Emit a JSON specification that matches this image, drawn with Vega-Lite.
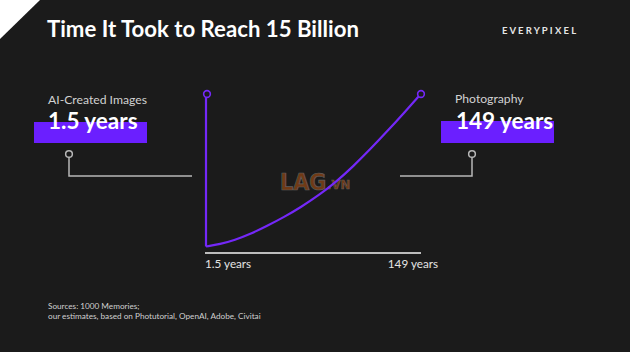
{
  "$schema": "https://vega.github.io/schema/vega-lite/v6.json",
  "width": 630,
  "height": 352,
  "autosize": {"type": "fit", "contains": "padding"},
  "padding": 0,
  "background": "#1b1b1b",
  "config": {"view": {"stroke": null}, "font": "Lato"},
  "datasets": {
    "corner": [{"x": 0, "y": 0, "y2": 39}, {"x": 40, "y": 0, "y2": 0}],
    "boxes": [
      {"x": 34, "x2": 147, "y": 122, "y2": 143},
      {"x": 441, "x2": 554, "y": 121, "y2": 143}
    ],
    "connectors": [
      {"id": "left", "ord": 1, "x": 69, "y": 157},
      {"id": "left", "ord": 2, "x": 69, "y": 176},
      {"id": "left", "ord": 3, "x": 192, "y": 176},
      {"id": "right", "ord": 1, "x": 472, "y": 157},
      {"id": "right", "ord": 2, "x": 472, "y": 176},
      {"id": "right", "ord": 3, "x": 400, "y": 176}
    ],
    "grayDots": [{"x": 69, "y": 154}, {"x": 472, "y": 154}],
    "axisLine": [{"x": 205, "x2": 421, "y": 253}],
    "vertical": [{"x": 206, "y": 96, "y2": 246.5}],
    "curve": [
      {"x": 206, "y": 246.5},
      {"x": 220, "y": 244.2},
      {"x": 235, "y": 240},
      {"x": 250, "y": 234.2},
      {"x": 267, "y": 226},
      {"x": 285, "y": 216.5},
      {"x": 300, "y": 207.7},
      {"x": 320, "y": 194.5},
      {"x": 337, "y": 181},
      {"x": 353, "y": 166.5},
      {"x": 370, "y": 149.5},
      {"x": 387, "y": 131.5},
      {"x": 403, "y": 114},
      {"x": 419, "y": 96}
    ],
    "purpleDots": [{"x": 207, "y": 94}, {"x": 421, "y": 94}],
    "title": [{"x": 47, "y": 37, "text": "Time It Took to Reach 15 Billion"}],
    "logo": [{"x": 502, "y": 34, "text": "E V E R Y P I X E L"}],
    "labels": [
      {"x": 48, "y": 104, "text": "AI-Created Images"},
      {"x": 455, "y": 103, "text": "Photography"}
    ],
    "big": [
      {"x": 48, "y": 129, "text": "1.5 years"},
      {"x": 456, "y": 129, "text": "149 years"}
    ],
    "axisLeft": [{"x": 205, "y": 268, "text": "1.5 years"}],
    "axisRight": [{"x": 438, "y": 268, "text": "149 years"}],
    "sources": [
      {"x": 48, "y": 309, "text": "Sources: 1000 Memories;"},
      {"x": 48, "y": 319, "text": "our estimates, based on Photutorial, OpenAI, Adobe, Civitai"}
    ],
    "wmBig": [{"x": 280, "y": 190, "text": "LAG"}],
    "wmSmall": [{"x": 327, "y": 189, "text": ".VN"}]
  },
  "encoding": {
    "x": {"field": "x", "type": "quantitative", "scale": {"domain": [0, 630], "nice": false, "zero": false}, "axis": null},
    "y": {"field": "y", "type": "quantitative", "scale": {"domain": [0, 352], "nice": false, "zero": false, "reverse": true}, "axis": null}
  },
  "layer": [
    {
      "data": {"name": "corner"},
      "mark": {"type": "area", "color": "#ffffff", "opacity": 1},
      "encoding": {"y2": {"field": "y2"}}
    },
    {
      "data": {"name": "boxes"},
      "mark": {"type": "rect", "color": "#6b1fff"},
      "encoding": {"x2": {"field": "x2"}, "y2": {"field": "y2"}}
    },
    {
      "data": {"name": "connectors"},
      "mark": {"type": "line", "color": "#b8b8b8", "strokeWidth": 1.5},
      "encoding": {"detail": {"field": "id"}, "order": {"field": "ord"}}
    },
    {
      "data": {"name": "grayDots"},
      "mark": {"type": "point", "shape": "circle", "filled": true, "fill": "#1b1b1b", "fillOpacity": 1, "stroke": "#b8b8b8", "strokeWidth": 1.5, "size": 45, "opacity": 1}
    },
    {
      "data": {"name": "wmBig"},
      "mark": {"type": "text", "align": "left", "baseline": "alphabetic", "fontSize": 23, "fontWeight": "bold", "font": "DejaVu Sans Condensed", "fill": "#7a3e16", "stroke": "#666666", "strokeWidth": 0.7, "opacity": 0.9},
      "encoding": {"text": {"field": "text"}}
    },
    {
      "data": {"name": "wmSmall"},
      "mark": {"type": "text", "align": "left", "baseline": "alphabetic", "fontSize": 13, "fontWeight": "bold", "font": "DejaVu Sans Condensed", "fill": "#7a3e16", "stroke": "#666666", "strokeWidth": 0.5, "opacity": 0.9},
      "encoding": {"text": {"field": "text"}}
    },
    {
      "data": {"name": "axisLine"},
      "mark": {"type": "rule", "color": "#bdbdbd", "strokeWidth": 2},
      "encoding": {"x2": {"field": "x2"}}
    },
    {
      "data": {"name": "vertical"},
      "mark": {"type": "rule", "color": "#7428f8", "strokeWidth": 2.2},
      "encoding": {"y2": {"field": "y2"}}
    },
    {
      "data": {"name": "curve"},
      "mark": {"type": "line", "color": "#7428f8", "strokeWidth": 2.2, "interpolate": "basis"},
      "encoding": {}
    },
    {
      "data": {"name": "purpleDots"},
      "mark": {"type": "point", "shape": "circle", "filled": true, "fill": "#1b1b1b", "fillOpacity": 1, "stroke": "#7428f8", "strokeWidth": 1.6, "size": 45, "opacity": 1}
    },
    {
      "data": {"name": "title"},
      "mark": {"type": "text", "align": "left", "baseline": "alphabetic", "fontSize": 22.2, "fontWeight": "bold", "color": "#ffffff"},
      "encoding": {"text": {"field": "text"}}
    },
    {
      "data": {"name": "logo"},
      "mark": {"type": "text", "align": "left", "baseline": "alphabetic", "fontSize": 9.5, "fontWeight": "bold", "color": "#e6e6e6"},
      "encoding": {"text": {"field": "text"}}
    },
    {
      "data": {"name": "labels"},
      "mark": {"type": "text", "align": "left", "baseline": "alphabetic", "fontSize": 12.2, "color": "#d2d2d2"},
      "encoding": {"text": {"field": "text"}}
    },
    {
      "data": {"name": "big"},
      "mark": {"type": "text", "align": "left", "baseline": "alphabetic", "fontSize": 22.5, "fontWeight": "bold", "color": "#ffffff"},
      "encoding": {"text": {"field": "text"}}
    },
    {
      "data": {"name": "axisLeft"},
      "mark": {"type": "text", "align": "left", "baseline": "alphabetic", "fontSize": 11.7, "color": "#e4e4e4"},
      "encoding": {"text": {"field": "text"}}
    },
    {
      "data": {"name": "axisRight"},
      "mark": {"type": "text", "align": "right", "baseline": "alphabetic", "fontSize": 11.7, "color": "#e4e4e4"},
      "encoding": {"text": {"field": "text"}}
    },
    {
      "data": {"name": "sources"},
      "mark": {"type": "text", "align": "left", "baseline": "alphabetic", "fontSize": 8.2, "color": "#d0d0d0"},
      "encoding": {"text": {"field": "text"}}
    }
  ]
}
